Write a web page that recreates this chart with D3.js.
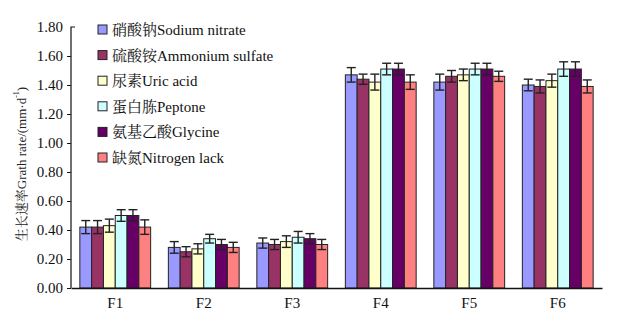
<!DOCTYPE html>
<html>
<head>
<meta charset="utf-8">
<script src="https://cdn.jsdelivr.net/npm/d3@7"></script>
<style>
  body { margin: 0; background: #fff; }
</style>
</head>
<body>
<div id="chart"></div>
<script>
// Growth rate per nitrogen source, groups F1..F6, with error bars.

const GROUPS = ["F1", "F2", "F3", "F4", "F5", "F6"];

const SERIES = [
  { label: "硝酸钠Sodium nitrate",     color: "#9999ff" },
  { label: "硫酸铵Ammonium sulfate",   color: "#993366" },
  { label: "尿素Uric acid",            color: "#ffffcc" },
  { label: "蛋白胨Peptone",            color: "#ccffff" },
  { label: "氨基乙酸Glycine",          color: "#660066" },
  { label: "缺氮Nitrogen lack",        color: "#ff8080" },
];

// values[series][group]
const VALUES = [
  [0.42, 0.28, 0.31, 1.47, 1.42, 1.40],
  [0.42, 0.25, 0.30, 1.44, 1.46, 1.39],
  [0.43, 0.27, 0.32, 1.42, 1.47, 1.43],
  [0.50, 0.34, 0.35, 1.51, 1.51, 1.51],
  [0.50, 0.30, 0.34, 1.51, 1.51, 1.51],
  [0.42, 0.28, 0.30, 1.42, 1.46, 1.39],
];

const ERRORS = [
  [0.045, 0.040, 0.035, 0.050, 0.055, 0.040],
  [0.045, 0.035, 0.035, 0.035, 0.040, 0.045],
  [0.045, 0.035, 0.040, 0.055, 0.040, 0.045],
  [0.040, 0.030, 0.040, 0.040, 0.040, 0.050],
  [0.040, 0.035, 0.035, 0.040, 0.040, 0.050],
  [0.050, 0.035, 0.035, 0.050, 0.035, 0.045],
];

const Y_TICKS = [0, 0.2, 0.4, 0.6, 0.8, 1.0, 1.2, 1.4, 1.6, 1.8];

const FONT = '"Liberation Serif", "Times New Roman", "Noto Serif CJK SC", "Noto Sans CJK SC", serif';

const W = 617, H = 313;
const plot = { left: 71, right: 602, top: 27, bottom: 288 };

const svg = d3.select("#chart").append("svg").attr("width", W).attr("height", H)
  .attr("font-family", FONT);

const x0 = d3.scaleBand().domain(GROUPS).range([plot.left, plot.right])
  .paddingInner(0.2).paddingOuter(0.1);
const x1 = d3.scaleBand().domain(d3.range(SERIES.length)).range([0, x0.bandwidth()]);
const y = d3.scaleLinear().domain([0, 1.8]).range([plot.bottom, plot.top]);

// bars
GROUPS.forEach((grp, gi) => {
  const g = svg.append("g").attr("transform", `translate(${x0(grp)},0)`);
  SERIES.forEach((s, si) => {
    const v = VALUES[si][gi], e = ERRORS[si][gi];
    const bx = x1(si), bw = x1.bandwidth();
    g.append("rect")
      .attr("x", bx).attr("y", y(v))
      .attr("width", bw).attr("height", y(0) - y(v))
      .attr("fill", s.color).attr("stroke", "#222").attr("stroke-width", 1);
    const cx = bx + bw / 2, cap = 4.5;
    const eg = g.append("g").attr("stroke", "#222").attr("stroke-width", 1.4);
    eg.append("line").attr("x1", cx).attr("x2", cx).attr("y1", y(v + e)).attr("y2", y(v - e));
    eg.append("line").attr("x1", cx - cap).attr("x2", cx + cap).attr("y1", y(v + e)).attr("y2", y(v + e));
    eg.append("line").attr("x1", cx - cap).attr("x2", cx + cap).attr("y1", y(v - e)).attr("y2", y(v - e));
  });
});

// y axis (top tick points inward like the original)
svg.append("g")
  .attr("transform", `translate(${plot.left},0)`)
  .call(d3.axisLeft(y).tickValues(Y_TICKS).tickSize(4).tickPadding(4).tickFormat(d3.format(".2f")))
  .attr("font-family", FONT)
  .call(ax => ax.select(".domain").attr("d", `M4,${plot.top}H0V${plot.bottom}`).attr("stroke", "#111").attr("stroke-width", 1.2))
  .call(ax => ax.selectAll(".tick line").attr("stroke", "#111").filter(d => d === 1.8).remove())
  .selectAll("text").style("font-size", "15px").style("font-family", FONT).attr("fill", "#111");

// x axis
svg.append("g")
  .attr("transform", `translate(0,${plot.bottom})`)
  .call(d3.axisBottom(x0).tickSize(0).tickPadding(9))
  .attr("font-family", FONT)
  .call(ax => ax.select(".domain").attr("stroke", "#111").attr("stroke-width", 1.4))
  .selectAll("text").style("font-size", "15px").style("font-family", FONT).attr("fill", "#111");

// y label
svg.append("text")
  .attr("transform", "translate(21,164) rotate(-90)")
  .attr("text-anchor", "middle").attr("dominant-baseline", "central")
  .style("font-size", "13px").style("font-family", FONT).attr("fill", "#222")
  .html('生长速率Grath rate/(mm·d<tspan dy="-5" font-size="8">-1</tspan><tspan dy="5">)</tspan>');

// legend
const legend = svg.append("g").attr("transform", "translate(98,30)");
SERIES.forEach((s, i) => {
  const row = legend.append("g").attr("transform", `translate(0,${i * 25.6})`);
  row.append("rect").attr("x", 0).attr("y", -5).attr("width", 9).attr("height", 9)
    .attr("fill", s.color).attr("stroke", "#222").attr("stroke-width", 1);
  row.append("text").attr("x", 14).attr("y", 0).attr("dominant-baseline", "central")
    .style("font-size", "15px").style("font-family", FONT).attr("fill", "#111").text(s.label);
});
</script>
</body>
</html>
